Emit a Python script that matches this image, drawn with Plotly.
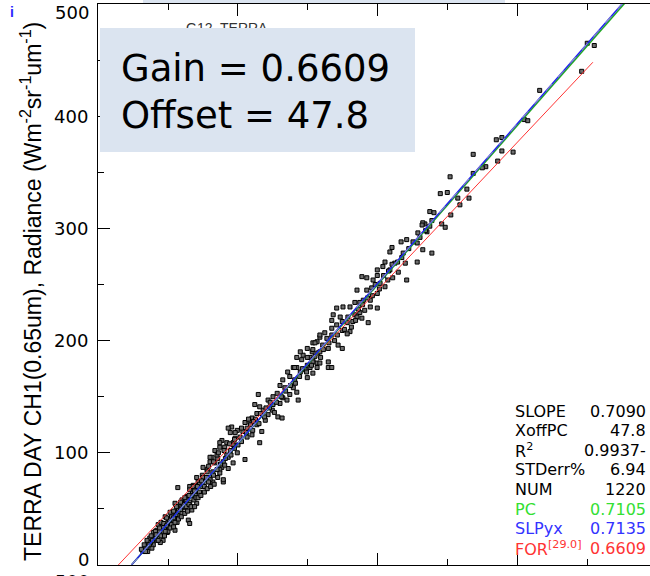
import plotly.graph_objects as go

# ---------------- data ----------------
# GOES-12 counts (x) vs TERRA CH1 radiance (y)
goes_count = [
    699, 709, 691, 631, 609, 614, 577, 569, 577, 593, 571, 536, 554, 549, 536, 503, 527, 499, 489, 514, 530,
    477, 474, 496, 517, 504, 491, 467,
    474, 480, 464, 463, 470, 457, 441, 433, 456, 477, 464, 420, 417, 456, 439, 434, 424, 410, 407, 417, 429,
    441, 421, 414, 399, 399, 377, 384, 393, 403, 410, 370, 384, 391, 399, 389, 379, 374, 367, 360, 389, 399,
    381, 374, 367, 357, 346, 341, 350, 349, 370, 364, 377, 356, 336, 334, 341, 334, 349, 360, 386, 324, 327,
    317, 313, 321, 343, 349, 307, 299, 306, 314, 303, 293, 291, 307, 313, 299, 284, 279, 329,
    317, 334, 310, 307, 317, 329, 289, 284, 299, 307, 317, 329, 334, 313, 303, 296, 307, 289, 281, 271, 274,
    264, 281, 299, 260, 267, 279, 284, 274, 256, 250, 264, 270, 286, 260, 250, 243, 229, 249, 236, 231, 224,
    227, 243, 257, 263, 239, 220, 217, 227, 210, 213, 221, 234, 207, 203, 199, 191, 186, 189, 196, 213, 220,
    231, 200, 193, 184, 177, 174, 189, 199, 184, 167, 163, 171, 179, 177, 167, 160, 186, 174, 164, 156, 150,
    149, 160, 171, 179, 164, 153, 141, 146, 136, 131, 210,
    174, 181, 193, 186, 170, 160, 181, 193, 174, 179, 156, 150, 160, 143, 136, 149, 131, 139, 127, 120, 131,
    141, 117, 110, 124, 134, 114, 110, 103, 96, 106, 113, 93, 86, 100, 110, 84, 91, 79, 99, 74, 84, 93, 71,
    79, 89, 67, 77, 64, 71, 129, 131,
    80, 85, 95, 100, 105, 115, 120, 125, 128, 135, 140, 145, 150, 155, 100, 90, 70, 75, 82, 88, 108, 112,
    118, 122, 126, 133, 137, 117, 105, 96, 86, 95, 102, 92, 110, 120, 126, 130, 140, 145, 152, 158, 165,
    170, 175, 182, 190, 195, 205, 212, 218, 225, 232, 240, 246,
    196, 205, 215, 222, 230, 238, 245, 252, 255, 262, 268, 275, 282, 288, 292, 298, 305, 310, 318, 322, 330,
    338, 342, 352, 356, 362, 368, 372, 378, 385, 392, 396, 402, 408, 415, 420, 428, 436, 444, 450, 460, 468,
    158, 165, 172, 180, 188, 195, 148, 142, 138, 130, 124, 118, 112, 108, 98, 90, 82, 76, 70, 66, 62, 68,
    73, 78, 83, 88, 94, 98, 103, 108, 115, 119, 124, 128, 133, 138, 143, 147, 152, 156, 161, 166,
]
terra_radiance = [
    465, 463, 440, 423, 397, 396, 381, 379, 369, 368, 360, 366, 355, 354, 349, 346, 335, 332, 331, 327, 327,
    307, 302, 301, 321, 312, 304, 304,
    315, 314, 305, 303, 297, 296, 290, 288, 287, 278, 281, 283, 279, 270, 269, 274, 269, 270, 266, 263, 261,
    254, 256, 254, 263, 258, 257, 256, 254, 251, 248, 245, 245, 247, 242, 236, 236, 234, 234, 230, 230, 229,
    227, 225, 223, 221, 221, 229, 230, 217, 221, 217, 220, 216, 223, 218, 214, 211, 209, 208, 216, 207, 202,
    203, 199, 196, 196, 193, 198, 193, 190, 189, 185, 187, 183, 183, 180, 178, 176, 176, 176,
    205, 205, 198, 192, 190, 193, 190, 185, 185, 181, 180, 181, 176, 176, 176, 174, 171, 172, 176, 172, 168,
    165, 165, 167, 160, 158, 158, 154, 152, 153, 150, 149, 147, 147, 144, 143, 147, 152, 138, 138, 141, 143,
    135, 134, 132, 131, 129, 131, 127, 125, 127, 122, 120, 119, 119, 114, 120, 123, 122, 118, 113, 114, 116,
    109, 107, 109, 109, 111, 105, 102, 100, 98, 102, 96, 95, 92, 87, 91, 92, 86, 85, 83, 85, 87,
    80, 78, 78, 74, 74, 76, 78, 73, 71, 70, 94,
    109, 105, 107, 96, 98, 96, 89, 91, 82, 76, 83, 78, 76, 74, 70, 70, 67, 62, 61, 58, 56,
    55, 52, 55, 51, 49, 69, 47, 47, 43, 40, 38, 37, 36, 34, 31, 31, 29, 29, 29, 24, 22, 22, 20,
    18, 20, 15, 15, 12, 12, 40, 37,
    25, 27, 33, 38, 43, 50, 52, 56, 60, 64, 67, 72, 73, 78, 30, 26, 16, 20, 24, 30, 42, 45,
    49, 54, 58, 62, 58, 44, 36, 30, 22, 26, 40, 34, 38, 46, 52, 54, 60, 65, 70, 74, 80,
    85, 90, 95, 98, 104, 110, 118, 125, 130, 135, 140, 145,
    118, 122, 130, 128, 126, 132, 140, 136, 145, 150, 155, 160, 162, 168, 175, 172, 178, 186, 185, 192, 198,
    200, 205, 210, 206, 212, 218, 228, 232, 238, 240, 250, 246, 258, 262, 268, 270, 278, 282, 288, 292, 298,
    88, 92, 100, 102, 108, 112, 75, 70, 66, 62, 60, 56, 52, 48, 42, 38, 30, 26, 22, 18, 14, 12,
    18, 22, 27, 33, 37, 35, 33, 34, 41, 43, 46, 48, 52, 52, 60, 62, 65, 68, 70, 72,
]

# fit statistics shown on the chart
stat_labels = ["SLOPE", "XoffPC", "R<sup>2</sup>", "STDerr%", "NUM", "PC", "SLPyx", "FOR<sup>[29.0]</sup>"]
stat_values = ["0.7090", "47.8", "0.9937-", "6.94", "1220", "0.7105", "0.7135", "0.6609"]
stat_colors = ["black", "black", "black", "black", "black", "#33e033", "#3333ff", "#ff3333"]

slope_all = 0.7090
xoff_pc = 47.8
slope_pc = 0.7105
slope_yx = 0.7135
gain_for = 0.6609
xoff_for = 29.0
for_end_count = 707        # where the red FOR line stops
fit_end_count = 790        # other fit lines run off the top

y_ticks = [0, 100, 200, 300, 400, 500]
x_range = [0, 788.6]
y_range = [0, 500]

# ---------------- layout geometry (pixels) ----------------
W, H = 650, 576
L, R, T, B = 98, 650, 4, 565


def pxx(x):
    return (x - L) / (R - L)


def pxy(y):
    return (B - y) / (B - T)


fig = go.Figure()

fig.add_trace(go.Scatter(
    x=goes_count, y=terra_radiance, mode="markers",
    marker=dict(symbol="square", size=4, color="#6e6e6e",
                line=dict(color="black", width=1)),
    hoverinfo="skip"))


def fit_line(slope, xoff, xend, color, width, dash="solid"):
    xs = [xoff, xend]
    ys = [slope * (v - xoff) for v in xs]
    fig.add_trace(go.Scatter(x=xs, y=ys, mode="lines",
                             line=dict(color=color, width=width, dash=dash),
                             hoverinfo="skip"))


fit_line(gain_for, xoff_for, for_end_count, "#ff3333", 1)
fit_line(slope_pc, xoff_pc, fit_end_count, "#22aa22", 1.5)
fit_line(slope_yx, xoff_pc, fit_end_count, "#2222ee", 1.5)
fit_line(slope_yx, xoff_pc, fit_end_count, "#9a9ac8", 1, "dash")

ann = []
tick_font = dict(family="DejaVu Sans", size=18, color="black")
# end labels of the y axis kept inside the frame
ann.append(dict(text=str(y_ticks[0]), x=pxx(91), y=pxy(559), xanchor="right", yanchor="middle",
                font=tick_font))
ann.append(dict(text=str(y_ticks[-1]), x=pxx(91), y=pxy(12), xanchor="right", yanchor="middle",
                font=tick_font))
# partially visible label of the panel below
ann.append(dict(text="500", x=pxx(91), y=pxy(569), xanchor="right", yanchor="top",
                font=tick_font))

# y title
ann.append(dict(text="TERRA DAY CH1(0.65um), Radiance (Wm<sup>-2</sup>sr<sup>-1</sup>um<sup>-1</sup>)",
                textangle=-90, x=pxx(31), y=pxy(292), xanchor="center", yanchor="middle",
                font=dict(family="Liberation Sans", size=23, color="black")))

ann.append(dict(text="<b>i</b>", x=pxx(12), y=pxy(12), xanchor="center", yanchor="middle",
                font=dict(family="Liberation Sans", size=14, color="#2a2aff")))

ann.append(dict(text="G12  TERRA", x=pxx(227), y=pxy(18), xanchor="center", yanchor="top",
                font=dict(family="Liberation Sans", size=14, color="#333333")))

# light blue box
ann.append(dict(text=" ", x=pxx(100), y=pxy(28), xanchor="left", yanchor="top",
                width=315, height=124, bgcolor="#dbe4f0", borderpad=0, borderwidth=0,
                font=dict(size=10)))
big_font = dict(family="DejaVu Sans", size=37, color="black")
ann.append(dict(text="Gain = 0.6609", x=pxx(119), y=pxy(69), xanchor="left", yanchor="middle",
                font=big_font))
ann.append(dict(text="Offset = 47.8", x=pxx(119), y=pxy(116), xanchor="left", yanchor="middle",
                font=big_font))

# statistics block
for i, (lab, val, col) in enumerate(zip(stat_labels, stat_values, stat_colors)):
    yc = 411 + i * 19.6
    f = dict(family="DejaVu Sans", size=16, color=col)
    ann.append(dict(text=lab, x=pxx(513), y=pxy(yc), xanchor="left", yanchor="middle", font=f))
    ann.append(dict(text=val, x=pxx(648), y=pxy(yc), xanchor="right", yanchor="middle", font=f))

for a in ann:
    a.update(xref="paper", yref="paper", showarrow=False)

shapes = [dict(type="rect", xref="paper", yref="paper", x0=pxx(143), x1=pxx(505), y0=pxy(0), y1=pxy(3),
               fillcolor="#dbe4f0", line=dict(width=0), layer="above")]

fig.update_layout(
    width=W, height=H,
    margin=dict(l=L, r=W - R, t=T, b=H - B, pad=0),
    paper_bgcolor="white", plot_bgcolor="white",
    showlegend=False,
    annotations=ann,
    shapes=shapes,
    xaxis=dict(range=x_range, showline=True, linecolor="black", linewidth=1, mirror="allticks",
               ticks="inside", ticklen=12, tickwidth=1, tickcolor="black", dtick=200, tick0=0,
               showticklabels=False, showgrid=False, zeroline=False,
               minor=dict(ticks="inside", ticklen=6, dtick=100, tickcolor="black", showgrid=False)),
    yaxis=dict(range=y_range, showline=True, linecolor="black", linewidth=1, mirror=False,
               ticks="inside", ticklen=12, tickwidth=1, tickcolor="black",
               tickvals=y_ticks, ticktext=[""] + [str(v) for v in y_ticks[1:-1]] + [""],
               tickfont=tick_font, ticklabelstandoff=5,
               showgrid=False, zeroline=False,
               minor=dict(ticks="inside", ticklen=6, dtick=50, tickcolor="black", showgrid=False)),
)

fig.write_html("out.html", config={"displayModeBar": False},
               post_script="document.body.style.margin='0px';")
